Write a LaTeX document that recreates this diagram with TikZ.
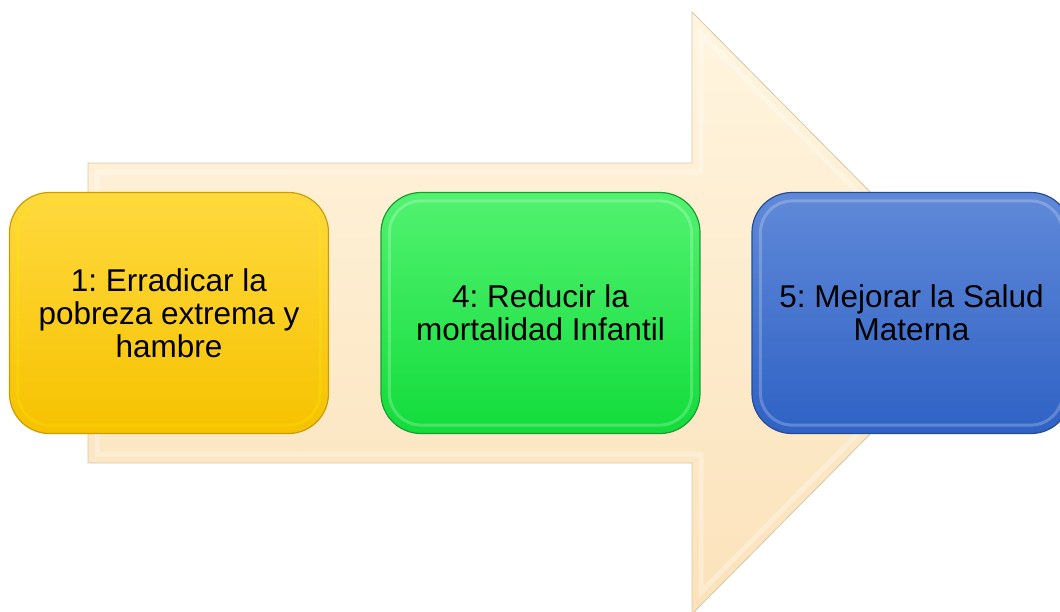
\documentclass[tikz,border=0pt]{standalone}
\usepackage{fontspec}
\setmainfont{Liberation Sans}
\usetikzlibrary{calc}
\definecolor{arrowtop}{HTML}{FFF5E0}
\definecolor{arrowbot}{HTML}{FBE2BA}
\definecolor{arrowline}{HTML}{D9C6A4}
\definecolor{ytop}{HTML}{FFD93E}
\definecolor{ybot}{HTML}{F6C200}
\definecolor{yline}{HTML}{C99E00}
\definecolor{gtop}{HTML}{52F270}
\definecolor{gbot}{HTML}{12DC3B}
\definecolor{gline}{HTML}{1A9C34}
\definecolor{btop}{HTML}{6089D8}
\definecolor{bbot}{HTML}{2F62C5}
\definecolor{bline}{HTML}{264C93}
\tikzset{
  goalbox/.style={rounded corners=40pt, minimum width=319pt, minimum height=241pt,
    line width=1.2pt, align=center, inner sep=0pt,
    font=\fontsize{31.5}{33}\selectfont},
  bevel/.style={rounded corners=32pt, line width=3pt, draw opacity=0.22},
}
\begin{document}
\frenchspacing
\begin{tikzpicture}[x=1pt,y=-1pt]
\useasboundingbox (0,0) rectangle (1060,611);
% big arrow
\path[top color=arrowtop, bottom color=arrowbot, draw=arrowline, line width=0.8pt]
  (88,163) -- (692,163) -- (692,12) -- (990,313) -- (692,614) -- (692,463) -- (88,463) -- cycle;
\path[draw=white, draw opacity=0.3, line width=5pt, line join=miter]
  (97,172) -- (701,172) -- (701,34) -- (977,313) -- (701,592) -- (701,454) -- (97,454) -- cycle;
% boxes
\node[goalbox, top color=ytop, bottom color=ybot, draw=yline] (g1) at (169,313)
  {1: Erradicar la\\pobreza extrema y\\hambre};
\node[goalbox, top color=gtop, bottom color=gbot, draw=gline] (g4) at (540.5,313)
  {4: Reducir la\\mortalidad Infantil};
\node[goalbox, top color=btop, bottom color=bbot, draw=bline] (g5) at (911.5,313)
  {5: Mejorar la Salud\\Materna};
% bevel highlights
\foreach \n/\c in {g1/yellow, g4/white, g5/white}{
  \draw[bevel, draw=\c] ([shift={(9,9)}]\n.north west) rectangle ([shift={(-9,-9)}]\n.south east);
}
\end{tikzpicture}
\end{document}
